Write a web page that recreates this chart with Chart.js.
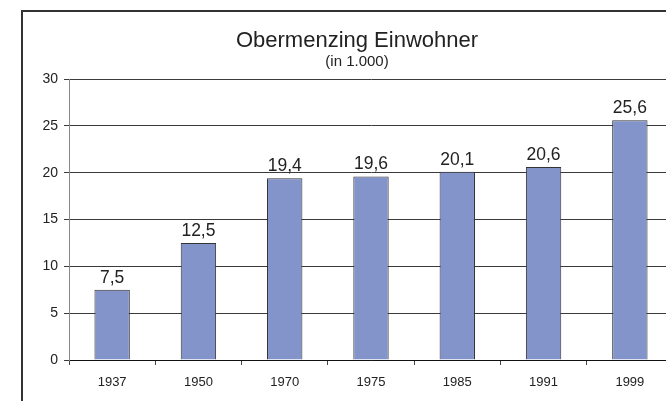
<!DOCTYPE html>
<html>
<head>
<meta charset="utf-8">
<script src="https://cdn.jsdelivr.net/npm/chart.js@4/dist/chart.umd.min.js"></script>
<style>
  html, body { margin: 0; padding: 0; background: #fff; overflow: hidden; width: 666px; height: 401px; }
  #frame { position: absolute; left: 21px; top: 10px; width: 700px; height: 420px;
           border-left: 2px solid #333; border-top: 2px solid #333; }
  #c { position: absolute; left: 0; top: 0; }
</style>
</head>
<body>
<div id="frame"></div>
<canvas id="c" width="693" height="401" style="width:693px;height:401px"></canvas>
<script>
const years = ['1937', '1950', '1970', '1975', '1985', '1991', '1999'];
const residents = [7.5, 12.5, 19.4, 19.6, 20.1, 20.6, 25.6];
const yTicks = [0, 5, 10, 15, 20, 25, 30];
const titleText = 'Obermenzing Einwohner';
const subtitleText = '(in 1.000)';

const FONT = '"Liberation Sans", Arial, sans-serif';

const valueLabels = {
  id: 'valueLabels',
  afterDatasetsDraw(chart) {
    const ctx = chart.ctx;
    const meta = chart.getDatasetMeta(0);
    ctx.save();
    ctx.font = '17.5px ' + FONT;
    ctx.fillStyle = '#222';
    ctx.textAlign = 'center';
    ctx.textBaseline = 'bottom';
    meta.data.forEach((bar, i) => {
      const txt = residents[i].toFixed(1).replace('.', ',');
      ctx.fillText(txt, bar.x, bar.y - 3);
    });
    ctx.restore();
  }
};

new Chart(document.getElementById('c'), {
  type: 'bar',
  data: {
    labels: years,
    datasets: [{
      data: residents,
      backgroundColor: '#8394CA',
      borderColor: '#333',
      borderWidth: 1,
      categoryPercentage: 1,
      barPercentage: 0.41
    }]
  },
  options: {
    responsive: false,
    animation: false,
    devicePixelRatio: 1,
    layout: { padding: { left: 41, right: 20, top: 0, bottom: 0 } },
    plugins: {
      legend: { display: false },
      tooltip: { enabled: false },
      title: {
        display: true, text: titleText, color: '#222',
        font: { family: FONT, size: 22, weight: 'normal', lineHeight: 1.2 },
        padding: { top: 28, bottom: 0 }
      },
      subtitle: {
        display: true, text: subtitleText, color: '#222',
        font: { family: FONT, size: 15, weight: 'normal', lineHeight: 1.0 },
        padding: { top: 0, bottom: 9.6 }
      }
    },
    scales: {
      x: {
        offset: true,
        grid: { offset: true, drawOnChartArea: false, drawTicks: true, tickLength: 5, color: '#444' },
        border: { display: true, color: '#111', width: 1 },
        ticks: { color: '#222', font: { family: FONT, size: 13 }, padding: 10, maxRotation: 0 },
        afterFit(s) { s.height = 41; }
      },
      y: {
        min: 0, max: 30,
        afterBuildTicks(s) { s.ticks = yTicks.map(v => ({ value: v })); },
        grid: { color: '#3a3a3a', lineWidth: 1, drawTicks: true, tickLength: 5 },
        border: { display: true, color: '#888', width: 1 },
        ticks: { color: '#222', font: { family: FONT, size: 14 }, padding: 6 },
        afterFit(s) { s.width = 28; }
      }
    }
  },
  plugins: [valueLabels]
});
</script>
</body>
</html>
